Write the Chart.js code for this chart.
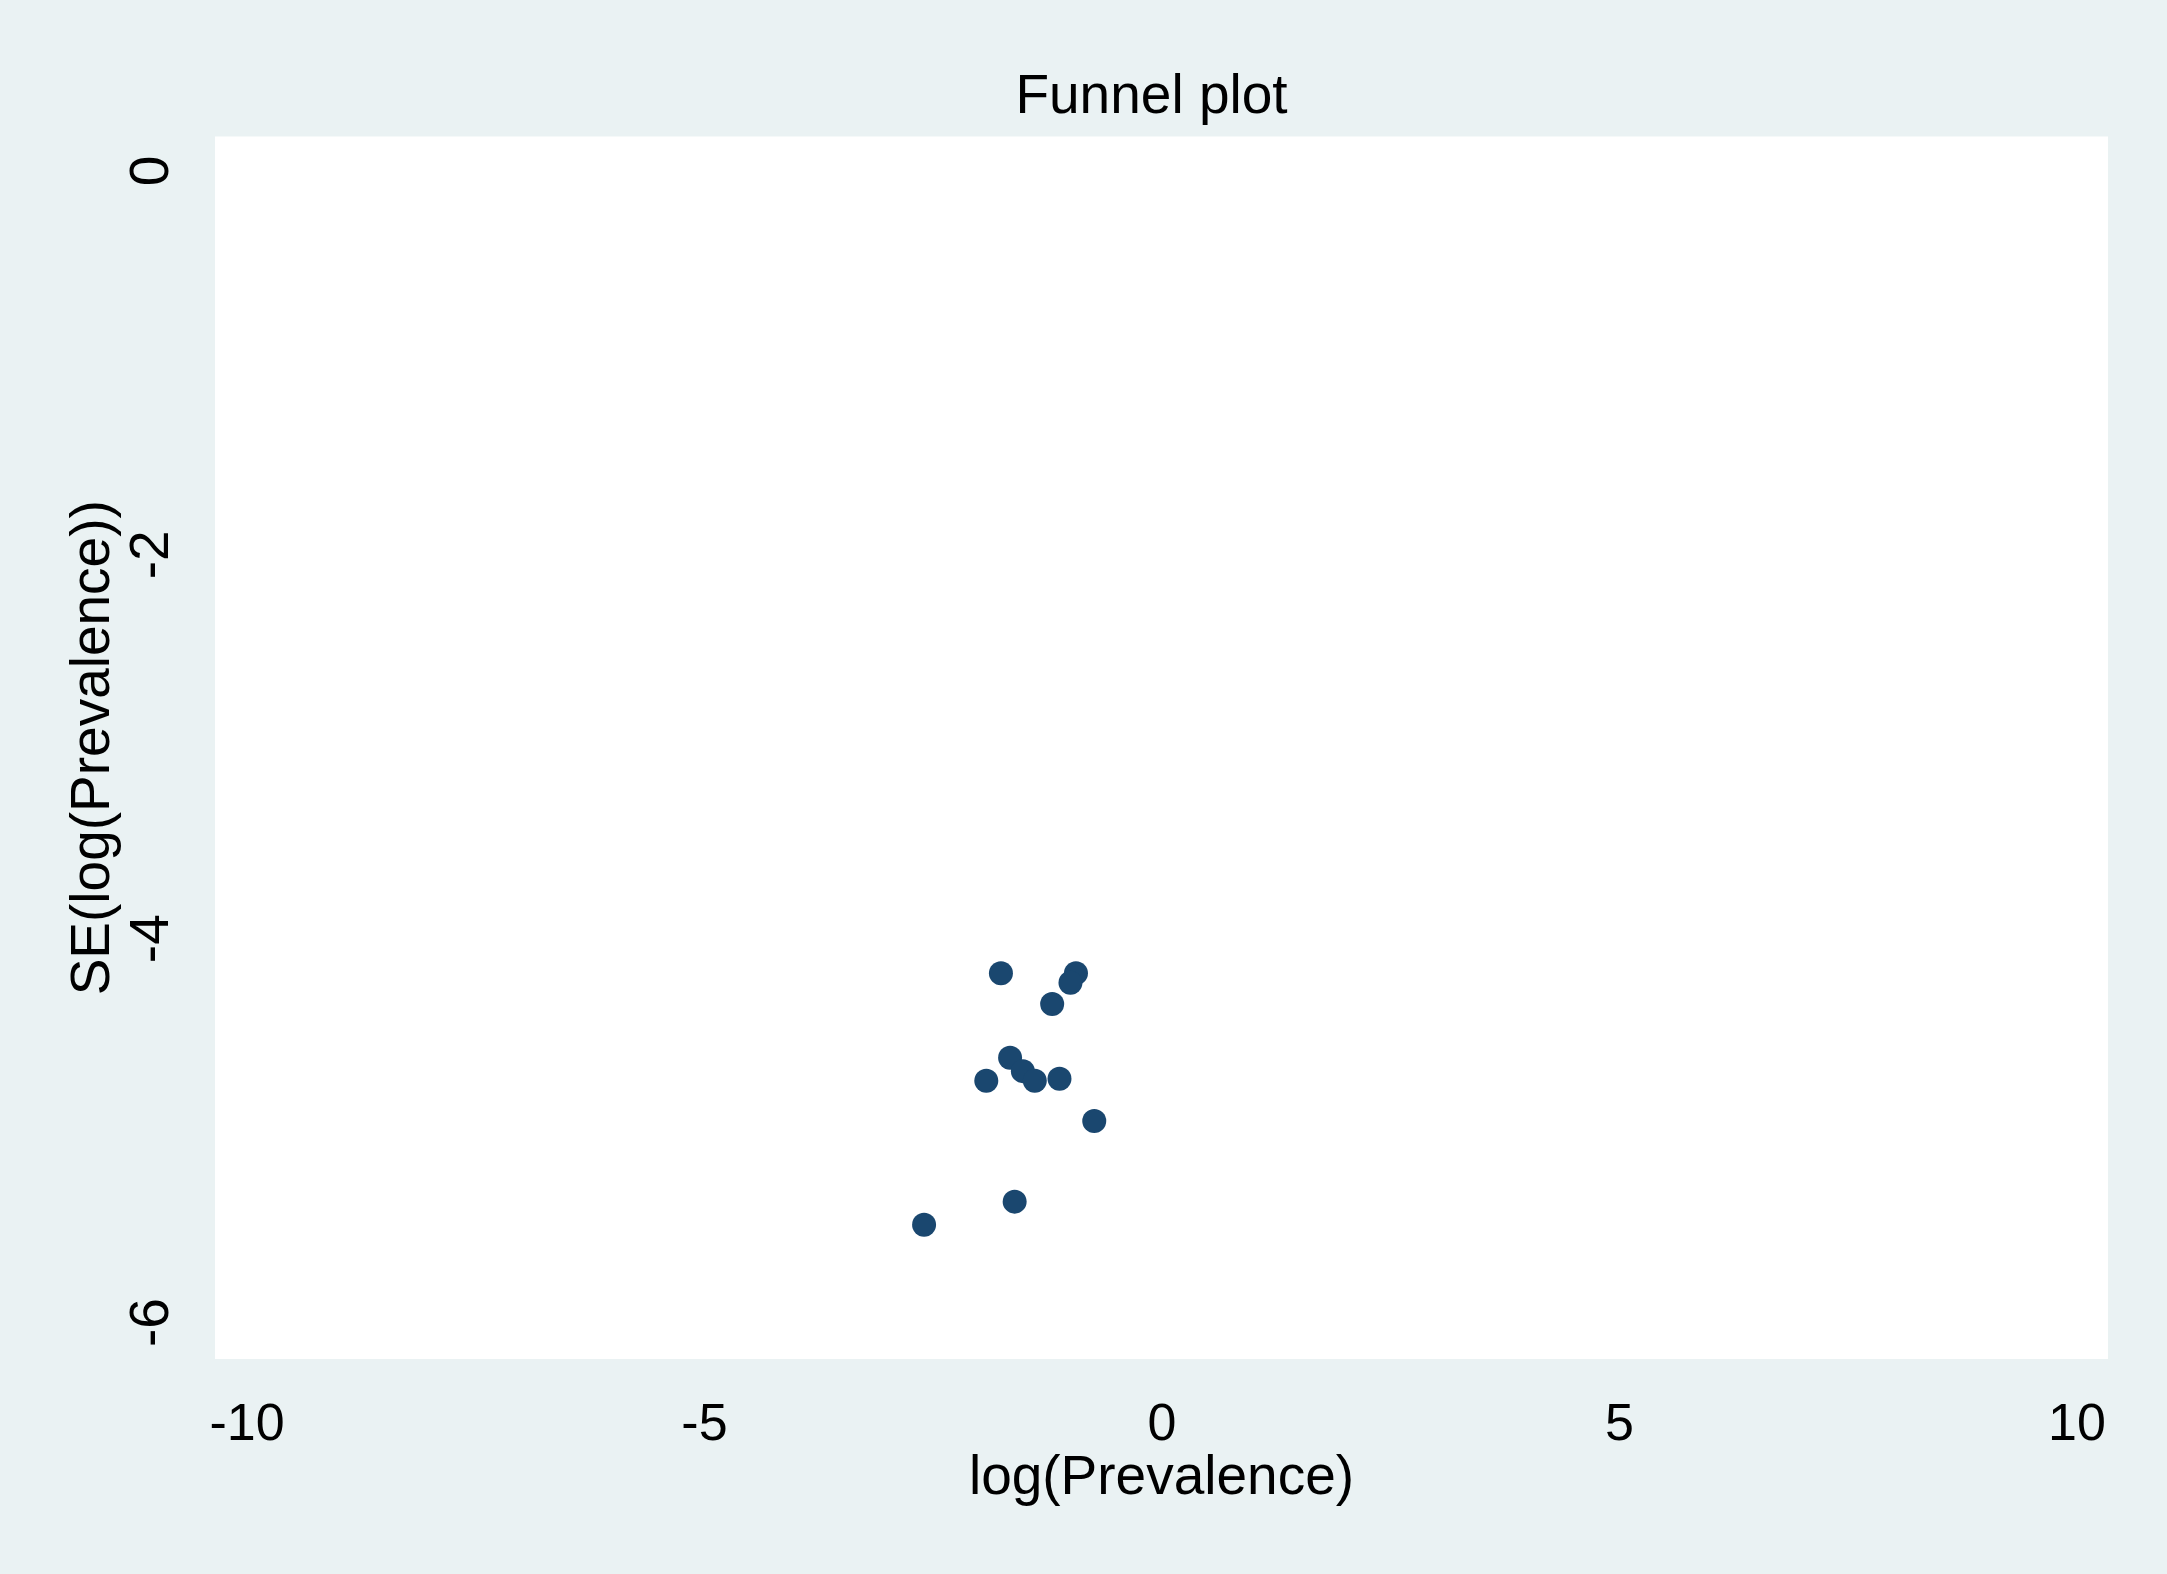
<!DOCTYPE html>
<html>
<head>
<meta charset="utf-8">
<title>Funnel plot</title>
<script src="https://cdn.jsdelivr.net/npm/chart.js@4/dist/chart.umd.min.js"></script>
<style>
  html, body {
    margin: 0;
    padding: 0;
    background: #eaf2f3;
  }
  #wrap {
    width: 2167px;
    height: 1574px;
    position: relative;
  }
</style>
</head>
<body>
<div id="wrap"><canvas id="funnelChart"></canvas></div>
<script>
// Study estimates
const logPrevalence = [-1.76, -0.94, -1.00, -1.20, -1.66, -1.52, -1.39, -1.92, -1.12, -0.74, -1.61, -2.60];
const seLogPrevalence = [-4.18, -4.18, -4.23, -4.34, -4.62, -4.69, -4.74, -4.74, -4.73, -4.95, -5.37, -5.49];

// Axis ticks
const xTicks = [-10, -5, 0, 5, 10];
const yTicks = [-6, -4, -2, 0];

const FONT = "'Liberation Sans', Arial, Helvetica, sans-serif";
const BG = "#eaf2f3";
const MARKER = "#1a476f";

// Fill the outer background and the white plot region
const backgroundPlugin = {
  id: "stataBackground",
  beforeDraw(chart) {
    const { ctx, chartArea } = chart;
    ctx.save();
    ctx.fillStyle = BG;
    ctx.fillRect(0, 0, chart.width, chart.height);
    ctx.fillStyle = "#ffffff";
    ctx.fillRect(chartArea.left, chartArea.top, chartArea.right - chartArea.left, chartArea.bottom - chartArea.top);
    ctx.restore();
  },
  // title sits over the plot region, not the whole canvas
  afterDraw(chart) {
    const { ctx, chartArea } = chart;
    ctx.save();
    ctx.fillStyle = "#000000";
    ctx.font = "55px " + FONT;
    ctx.textAlign = "center";
    ctx.textBaseline = "alphabetic";
    ctx.fillText("Funnel plot", (chartArea.left + chartArea.right) / 2 - 10, 113);
    ctx.restore();
  },
};

const points = logPrevalence.map((x, i) => ({ x: x, y: seLogPrevalence[i] }));

new Chart(document.getElementById("funnelChart").getContext("2d"), {
  type: "scatter",
  data: {
    datasets: [
      {
        data: points,
        backgroundColor: MARKER,
        borderColor: MARKER,
        borderWidth: 0,
        pointRadius: 12,
        pointHoverRadius: 12,
      },
    ],
  },
  options: {
    responsive: true,
    maintainAspectRatio: false,
    animation: false,
    events: [],
    layout: {
      padding: { top: 136.5, right: 59, left: 0, bottom: 0 },
    },
    plugins: {
      legend: { display: false },
      tooltip: { enabled: false },
      title: { display: false },
    },
    scales: {
      x: {
        type: "linear",
        position: "bottom",
        min: -10.35,
        max: 10.34,
        grid: { display: false, drawTicks: false },
        border: { display: false },
        afterBuildTicks: (scale) => {
          scale.ticks = xTicks.map((v) => ({ value: v }));
        },
        afterFit: (scale) => {
          scale.height = 215;
        },
        ticks: {
          color: "#000000",
          padding: 35,
          maxRotation: 0,
          autoSkip: false,
          font: { family: FONT, size: 52, lineHeight: 1.2 },
        },
        title: {
          display: true,
          text: "log(Prevalence)",
          color: "#000000",
          padding: { top: 0, bottom: 62 },
          font: { family: FONT, size: 55, lineHeight: 1.2 },
        },
      },
      y: {
        type: "linear",
        position: "left",
        min: -6.19,
        max: 0.18,
        grid: { display: false, drawTicks: false },
        border: { display: false },
        afterBuildTicks: (scale) => {
          scale.ticks = yTicks.map((v) => ({ value: v }));
        },
        afterFit: (scale) => {
          scale.width = 215;
        },
        ticks: {
          color: "#000000",
          padding: 38,
          minRotation: 90,
          maxRotation: 90,
          crossAlign: "center",
          autoSkip: false,
          font: { family: FONT, size: 55, lineHeight: 1.2 },
        },
        title: {
          display: true,
          text: "SE(log(Prevalence))",
          color: "#000000",
          padding: { top: 61, bottom: 0 },
          font: { family: FONT, size: 55, lineHeight: 1.2 },
        },
      },
    },
  },
  plugins: [backgroundPlugin],
});
</script>
</body>
</html>
